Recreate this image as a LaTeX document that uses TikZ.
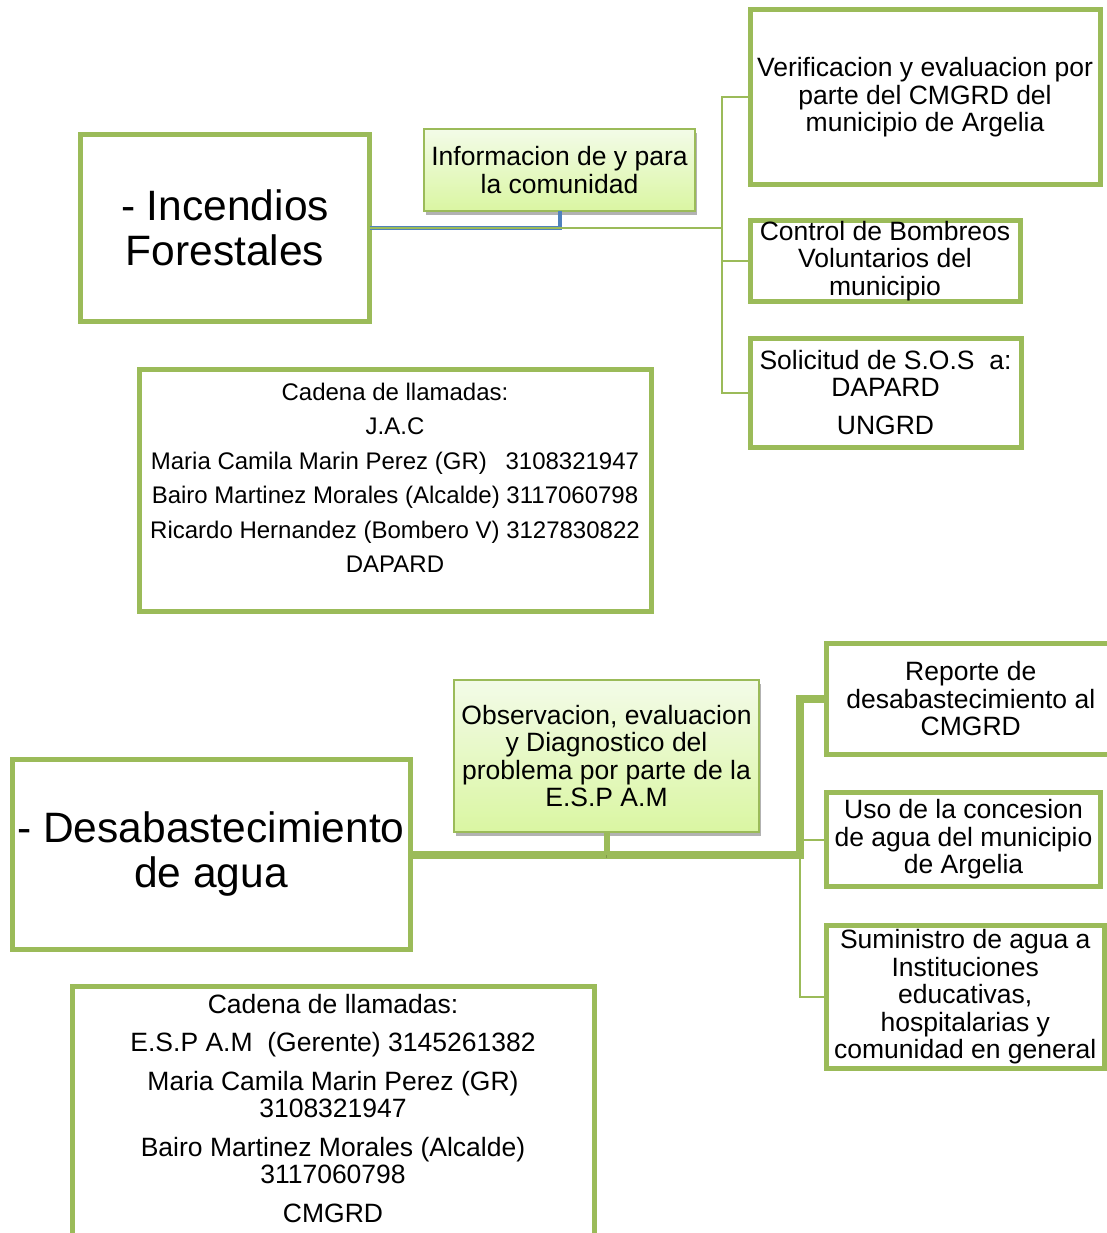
\documentclass[tikz,border=0pt]{standalone}
\usepackage{fontspec}
\setmainfont{Liberation Sans}
\usetikzlibrary{positioning,shadows}

\definecolor{ramaverde}{RGB}{155,187,89}
\definecolor{ramaazul}{RGB}{79,129,189}
\definecolor{hojaclara}{RGB}{243,251,232}
\definecolor{hojaverde}{RGB}{218,246,162}

\tikzset{
  caja/.style={draw=ramaverde, line width=5pt, fill=white, align=center,
    inner sep=0pt, outer sep=0pt, font=\fontsize{26.5}{27.5}\selectfont},
  titulo/.style={caja, font=\fontsize{42.5}{45}\selectfont},
  hoja/.style={draw=ramaverde, line width=2pt, top color=hojaclara, bottom color=hojaverde,
    align=center, inner sep=0pt, outer sep=0pt, font=\fontsize{26.5}{27.5}\selectfont,
    drop shadow={shadow xshift=2pt, shadow yshift=-4pt, opacity=.3, fill=black}},
  llamadas/.style={align=center, inner sep=0pt},
  rama/.style={draw=ramaverde, line width=2pt},
  azul/.style={draw=ramaazul, line width=4pt},
  ramagruesa/.style={draw=ramaverde, line width=8pt,
    preaction={draw=black, opacity=.18, transform canvas={yshift=-3pt}}},
}

\begin{document}
\begin{tikzpicture}[x=1pt, y=-1pt]
  \useasboundingbox (0,0) rectangle (1107,1233);

  \coordinate (jt) at (722,228);
  \coordinate (jb) at (800,854.5);

  \node[titulo, minimum width=289pt, minimum height=186.5pt] (inc) at (225,228)
    {- Incendios\\ Forestales};
  \node[caja, minimum width=350pt, minimum height=175pt] (verif) at (925,97.5)
    {Verificacion y evaluacion por\\ parte del CMGRD del\\ municipio de Argelia};
  \node[caja, minimum width=270pt, minimum height=80pt] (control) at (885,261)
    {Control de Bombreos\\ Voluntarios del\\ municipio};
  \node[caja, minimum width=271pt, minimum height=109pt] (sos) at (885.5,392.5)
    {Solicitud de S.O.S\ \ a:\\ DAPARD\\[10.5pt] UNGRD};
  \node[hoja, minimum width=271pt, minimum height=82pt] (info) at (559.5,170)
    {Informacion de y para\\ la comunidad};

  \draw[azul] (inc.east) -| (info.south);
  \draw[rama] (inc.east) -- (jt);
  \foreach \hoja in {verif,control,sos}
    \draw[rama] (jt) |- (\hoja.west);

  \node[caja, minimum width=512pt, minimum height=242pt] (cad1) at (395,490) {};
  \node[llamadas, font=\fontsize{24}{34.5}\selectfont, below=13.5pt of cad1.north] (cad1txt)
    {Cadena de llamadas:\\ J.A.C\\
     Maria Camila Marin Perez (GR)\hspace{18.7pt}3108321947\\
     Bairo Martinez Morales (Alcalde) 3117060798\\
     Ricardo Hernandez (Bombero V) 3127830822\\
     DAPARD};

  \node[titulo, minimum width=398pt, minimum height=190pt] (desab) at (211,854.5)
    {- Desabastecimiento\\ de agua};
  \node[caja, minimum width=288.5pt, minimum height=111pt] (reporte) at (970.75,699)
    {Reporte de\\ desabastecimiento al\\ CMGRD};
  \node[caja, minimum width=274pt, minimum height=93.5pt] (uso) at (963.5,839.5)
    {Uso de la concesion\\ de agua del municipio\\ de Argelia};
  \node[caja, minimum width=278.5pt, minimum height=143.5pt] (sumi) at (965.25,997)
    {Suministro de agua a\\ Instituciones\\ educativas,\\ hospitalarias y\\ comunidad en general};

  \foreach \hoja in {uso,sumi}
    \draw[rama] (jb) |- (\hoja.west);
  \draw[ramagruesa] (desab.east) -- (jb) |- (reporte.west);

  \node[hoja, minimum width=305pt, minimum height=152pt] (obs) at (606.5,756)
    {Observacion, evaluacion\\ y Diagnostico del\\ problema por parte de la\\ E.S.P A.M};
  \draw[ramagruesa, line width=6pt] (obs.south) -- (obs.south |- desab.east);

  \node[caja, minimum width=522pt, minimum height=259pt] (cad2) at (333,1115.5) {};
  \node[llamadas, font=\fontsize{26.5}{27.5}\selectfont, below=8pt of cad2.north] (cad2txt)
    {Cadena de llamadas:\\[11pt]
     E.S.P A.M\ \ (Gerente) 3145261382\\[11pt]
     Maria Camila Marin Perez (GR)\\ 3108321947\\[11pt]
     Bairo Martinez Morales (Alcalde)\\ 3117060798\\[11pt]
     CMGRD};
\end{tikzpicture}
\end{document}
